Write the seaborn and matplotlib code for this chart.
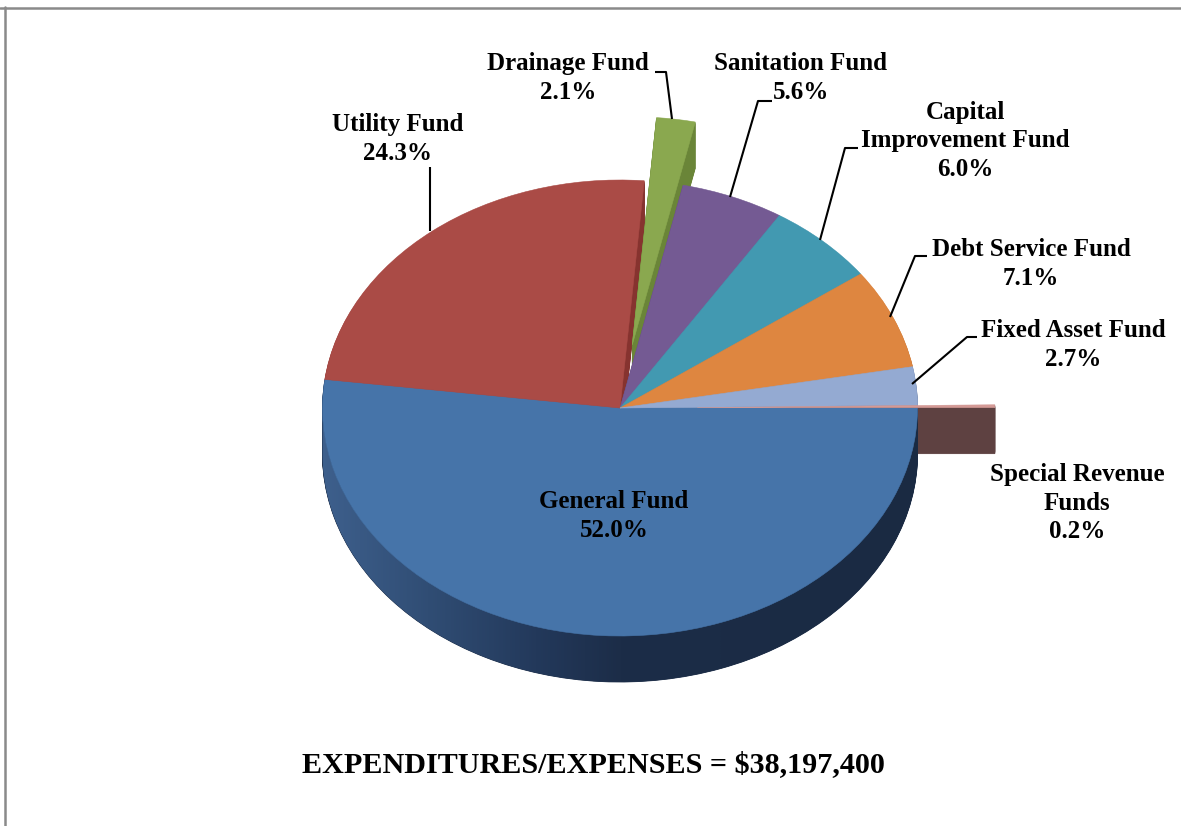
import numpy as np
import matplotlib
matplotlib.use("Agg")
import matplotlib.pyplot as plt
import seaborn as sns
from matplotlib.colors import LinearSegmentedColormap
from matplotlib.patches import Polygon
from matplotlib.lines import Line2D

# ---- data -------------------------------------------------------------
funds = ["General Fund", "Utility Fund", "Drainage Fund", "Sanitation Fund",
         "Capital Improvement Fund", "Debt Service Fund", "Fixed Asset Fund",
         "Special Revenue Funds"]
shares = [52.0, 24.3, 2.1, 5.6, 6.0, 7.1, 2.7, 0.2]
label_text = ["General Fund", "Utility Fund", "Drainage Fund", "Sanitation Fund",
              "Capital\nImprovement Fund", "Debt Service Fund", "Fixed Asset Fund",
              "Special Revenue\nFunds"]
explode = [0, 0, 0.28, 0, 0, 0, 0, 0.26]
total_label = "EXPENDITURES/EXPENSES = $38,197,400"

top_colors = ["#4674A9", "#AA4B46", "#8AA84F", "#745A93",
              "#4299B1", "#DE8640", "#94AAD2", "#D49A96"]
side_colors = ["#1C2D47", "#86332F", "#6A8538", "#56406F",
               "#2D7084", "#A8622A", "#6E82A6", "#5E4141"]

# ---- figure / geometry ------------------------------------------------
sns.set_theme(style="white")
plt.rcParams["font.family"] = ["Liberation Serif", "DejaVu Serif"]

W, H = 1181, 826
CX, CY, RX, RY = 620.0, 408.0, 297.5, 228.0   # pie centre and radii in pixels
DEPTH = 46.0 / RY                              # extrusion depth in pie units

fig = plt.figure(figsize=(W / 100, H / 100), dpi=100)
fig.patch.set_facecolor("white")
ax = fig.add_axes([0, 0, 1, 1])


def P(px, py):
    """pixel position -> pie data coordinates"""
    return (px - CX) / RX, (CY - py) / RY


pie_kw = dict(startangle=0, counterclock=False, explode=explode,
              normalize=True, radius=1.0)

# extrusion: stacked copies of the pie, darker colours
n_layers = 45
for d in np.linspace(DEPTH, 0.0, n_layers, endpoint=False):
    wedges, _ = ax.pie(shares, colors=side_colors, center=(0, -d),
                       wedgeprops=dict(linewidth=0.6), **pie_kw)
    for w, c in zip(wedges, side_colors):
        w.set_edgecolor(c)

# shaded outer wall of the front (General Fund) slice
t = np.linspace(np.pi, 2 * np.pi, 300)
wall = np.vstack([np.column_stack([np.cos(t), np.sin(t)]),
                  np.column_stack([np.cos(t[::-1]), np.sin(t[::-1]) - DEPTH])])
wall_patch = Polygon(wall, closed=True, facecolor="none", edgecolor="none")
ax.add_patch(wall_patch)
wall_cmap = LinearSegmentedColormap.from_list(
    "wall", [(0.0, "#3E608D"), (0.18, "#304D74"), (0.36, "#23395B"),
             (0.5, "#1C2D48"), (1.0, "#1A2A42")])
grad = np.linspace(0, 1, 512).reshape(1, -1)
img = ax.imshow(grad, cmap=wall_cmap, extent=(-1.01, 1.01, -1.3, 0.05),
                aspect="auto", origin="lower", zorder=2, interpolation="bilinear")
img.set_clip_path(wall_patch)

# top faces
wedges, _ = ax.pie(shares, colors=top_colors, center=(0, 0),
                   wedgeprops=dict(linewidth=0.4, zorder=3), **pie_kw)
for w, c in zip(wedges, top_colors):
    w.set_edgecolor(c)
    w.set_zorder(3)

# ---- labels -----------------------------------------------------------
font = dict(fontsize=18, fontweight="bold", color="black", ha="center",
            va="center", linespacing=1.32, zorder=6)
label_pos = [(614, 516), (398, 139), (568, 78), (801, 78),
             (965, 141), (1031, 264), (1073, 345), (1077, 503)]
for name, val, (px, py) in zip(label_text, shares, label_pos):
    ax.text(*P(px, py), f"{name}\n{val:.1f}%", **font)

leaders = [
    [(430, 167), (430, 231)],
    [(655, 72), (666, 72), (672, 119)],
    [(772, 101), (758, 101), (730, 197)],
    [(858, 148), (845, 148), (820, 240)],
    [(927, 256), (915, 256), (890, 317)],
    [(977, 337), (967, 337), (912, 384)],
]
for pts in leaders:
    xy = np.array([P(*p) for p in pts])
    ax.plot(xy[:, 0], xy[:, 1], color="black", lw=1.5, zorder=5,
            solid_capstyle="butt")

ax.text(*P(593, 765), total_label, fontsize=21.7, fontweight="bold",
        ha="center", va="center", color="black", zorder=6)

ax.set_aspect("auto")
ax.set_xlim(P(0, 0)[0], P(W, 0)[0])
ax.set_ylim(P(0, H)[1], P(0, 0)[1])
ax.axis("off")

# frame edges
fig.add_artist(Line2D([0, 1], [1 - 8 / H, 1 - 8 / H], transform=fig.transFigure,
                      color="#8A8A8A", lw=1.8))
fig.add_artist(Line2D([5 / W, 5 / W], [0, 1 - 7 / H], transform=fig.transFigure,
                      color="#8A8A8A", lw=1.8))

fig.savefig("out.png", dpi=100, facecolor="white")
